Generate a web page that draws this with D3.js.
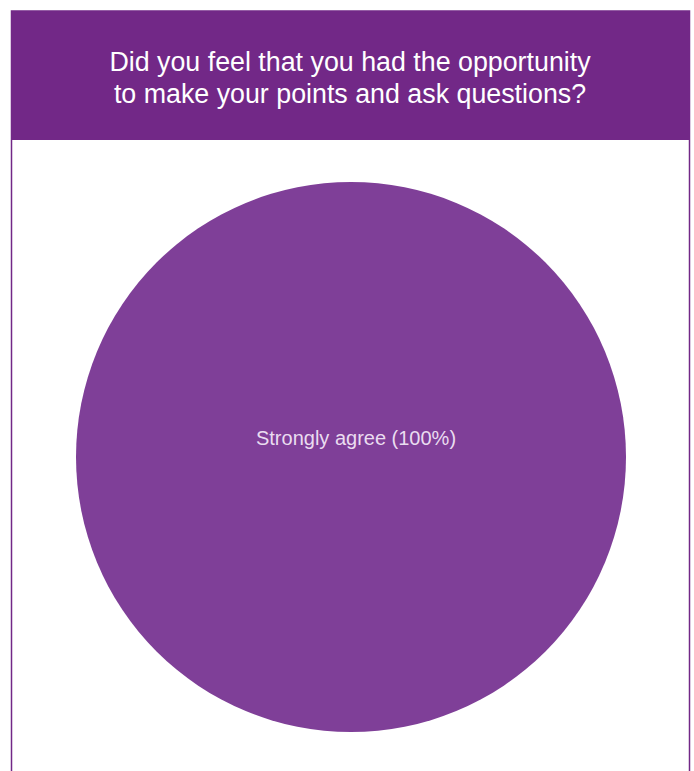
<!DOCTYPE html>
<html><head><meta charset="utf-8">
<script src="https://cdn.jsdelivr.net/npm/d3@7"></script>
<style>html,body{margin:0;padding:0;background:#fff;}svg{display:block;}</style>
</head><body>
<svg id="c" width="694" height="771"></svg>
<script>
const titleLines = ["Did you feel that you had the opportunity", "to make your points and ask questions?"];
const categories = ["Strongly agree"];
const values = [100];
const colors = ["#7f3f98"];

const svg = d3.select("#c");
// frame
svg.append("rect").attr("x", 11.5).attr("y", 11).attr("width", 678).attr("height", 780)
  .attr("fill", "#fff").attr("stroke", "#722887").attr("stroke-width", 1.5);
svg.append("rect").attr("x", 11).attr("y", 11).attr("width", 679).attr("height", 129).attr("fill", "#722887");
svg.append("text").attr("x", 350).attr("text-anchor", "middle")
  .attr("font-family", "Liberation Sans, Arial, sans-serif").attr("font-size", 26.8).attr("fill", "#fff")
  .selectAll("tspan").data(titleLines).join("tspan")
  .attr("x", 350).attr("y", (d, i) => 71 + i * 32).text(d => d);

const cx = 351, cy = 457, r = 275;
const pie = d3.pie().sort(null)(values);
const arc = d3.arc().innerRadius(0).outerRadius(r);
const g = svg.append("g").attr("transform", `translate(${cx},${cy})`);
g.selectAll("path").data(pie).join("path").attr("d", arc).attr("fill", (d, i) => colors[i]);
g.selectAll("text.lbl").data(pie).join("text").attr("class", "lbl")
  .attr("x", 5).attr("y", -12).attr("text-anchor", "middle")
  .attr("font-family", "Liberation Sans, Arial, sans-serif").attr("font-size", 20).attr("fill", "#eadcf0")
  .text((d, i) => `${categories[i]} (${values[i]}%)`);
</script>
</body></html>
